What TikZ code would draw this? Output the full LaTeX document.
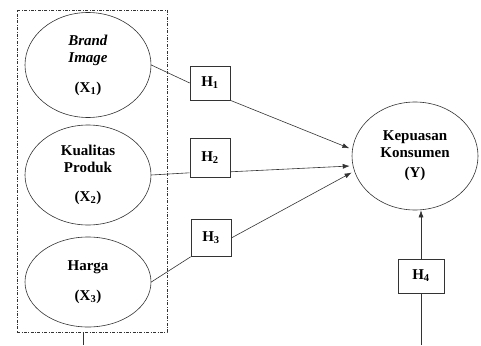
\documentclass[tikz,border=0pt]{standalone}
\usepackage{fontspec}
\setmainfont{Liberation Serif}
\usetikzlibrary{shapes.geometric,arrows.meta}
\tikzset{
  var/.style={draw=black!80, ellipse, inner sep=0pt, align=center,
    font=\bfseries\fontsize{15}{17}\selectfont},
  hyp/.style={draw=black!80, rectangle, inner sep=0pt,
    font=\bfseries\fontsize{15}{15}\selectfont},
  link/.style={draw=black!80, line width=0.6pt},
  tip/.style={-{Latex[length=7pt,width=5pt]}, shorten >=3pt}
}
\begin{document}
\begin{tikzpicture}[x=1pt,y=-1pt,line width=0.6pt]
\useasboundingbox (0,0) rectangle (481,345);
% draw the dashed group box
\node[draw=black!80, dash pattern=on 3pt off 1.5pt on 0.8pt off 1.5pt,
  minimum width=150, minimum height=322] (grp) at (92,171) {};
% draw the variables
\node[var, minimum width=126, minimum height=105] (x1) at (88,65)
  {\textit{Brand}\\\textit{Image}\\[13pt](X\textsubscript{1})};
\node[var, minimum width=126, minimum height=100] (x2) at (88,175)
  {Kualitas\\Produk\\[12pt](X\textsubscript{2})};
\node[var, minimum width=126, minimum height=90] (x3) at (88,282)
  {Harga\\[13pt](X\textsubscript{3})};
\node[var, minimum width=126, minimum height=108] (y) at (415,156)
  {Kepuasan\\Konsumen\\[3pt](Y)};
% draw the hypotheses
\node[hyp, minimum width=40, minimum height=34] (h1) at (210,83) {H\textsubscript{1}};
\node[hyp, minimum width=40, minimum height=39] (h2) at (210,158) {H\textsubscript{2}};
\node[hyp, minimum width=40, minimum height=37] (h3) at (211,238) {H\textsubscript{3}};
\node[hyp, minimum width=46, minimum height=34] (h4) at (421,276) {H\textsubscript{4}};
% draw the paths
\draw[link] (x1.east) -- (h1.west);
\draw[link,tip] (h1.south east) -- (y.174);
\draw[link] (x2.east) -- ([yshift=5pt]h2.south west);
\draw[link,tip] ([yshift=6pt]h2.south east) -- (y.189);
\draw[link] (x3.east) -- (h3.south west);
\draw[link,tip] (h3.east) -- (y.194);
\draw[link,tip,shorten >=0pt] (h4.north) -- (h4.north |- y.south);
\coordinate (h4in) at (421,345);
\draw[link] (h4in) -- (h4.south);
\coordinate (grpout) at (83,345);
\draw[link] (grpout |- grp.south) -- (grpout);
\end{tikzpicture}
\end{document}
